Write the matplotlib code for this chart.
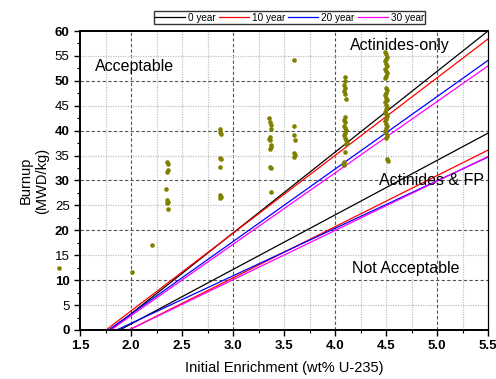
import numpy as np
import matplotlib
matplotlib.use("Agg")
import matplotlib.pyplot as plt

plt.rcParams["font.family"] = ["Liberation Sans", "DejaVu Sans"]

# decay-time curves: x-intercept (wt%) and burnup at 5.5 wt%
years = ["0 year", "10 year", "20 year", "30 year"]
colors = ["black", "red", "blue", "magenta"]
act_x0 = [1.80, 1.755, 1.78, 1.80]
act_y_end = [60.0, 58.4, 54.1, 53.0]
fp_x0 = [1.89, 1.98, 1.86, 1.98]
fp_y_end = [39.5, 36.1, 34.7, 34.8]
x_end = 5.5

# measured assemblies
pt_x = [1.29, 2.01, 2.21,
        2.35, 2.36, 2.36, 2.35, 2.34, 2.35, 2.36, 2.35, 2.36,
        2.87, 2.87, 2.88, 2.87, 2.88, 2.87, 2.87, 2.88, 2.87,
        3.35, 3.36, 3.37, 3.37, 3.36, 3.35, 3.36, 3.37, 3.37, 3.36, 3.36, 3.37, 3.37,
        3.60, 3.60, 3.60, 3.61, 3.60, 3.61, 3.60,
        4.10, 4.10, 4.09, 4.10, 4.09, 4.10, 4.11, 4.10, 4.09, 4.10, 4.09, 4.10,
        4.11, 4.10, 4.09, 4.10, 4.11, 4.12, 4.11, 4.10, 4.09, 4.08, 4.09,
        4.49, 4.50, 4.51, 4.50, 4.49, 4.50, 4.51, 4.49, 4.50, 4.51, 4.50, 4.49,
        4.50, 4.51, 4.50, 4.49, 4.50, 4.51, 4.49, 4.50, 4.51, 4.50, 4.49, 4.50,
        4.51, 4.50, 4.49, 4.50, 4.51, 4.50, 4.49, 4.50, 4.51, 4.50, 4.51, 4.52]
pt_y = [12.4, 11.6, 17.0,
        33.7, 33.3, 32.1, 31.7, 28.2, 26.0, 25.7, 25.4, 24.3,
        40.4, 39.8, 39.3, 34.6, 34.3, 32.8, 27.0, 26.6, 26.4,
        42.5, 41.8, 41.2, 40.4, 38.8, 38.4, 38.1, 37.1, 36.7, 36.3, 32.8, 32.5, 27.6,
        54.1, 41.0, 39.2, 38.2, 35.6, 35.2, 34.7,
        50.7, 50.0, 49.2, 48.5, 47.9, 47.4, 46.3, 42.7, 42.2, 41.8, 41.0, 40.5,
        40.2, 39.6, 39.2, 38.6, 38.2, 37.6, 37.4, 35.8, 33.8, 33.4, 33.2,
        55.8, 55.3, 54.8, 54.3, 53.9, 53.4, 52.9, 52.4, 52.0, 51.5, 51.0, 50.5,
        48.6, 48.1, 47.6, 47.1, 46.6, 46.1, 45.7, 45.2, 44.8, 44.3, 43.8, 43.4,
        42.9, 42.4, 41.9, 41.4, 40.9, 40.5, 40.0, 39.5, 39.0, 38.6, 34.4, 34.0]

fig = plt.figure(figsize=(4.96, 3.79), dpi=100)
ax = fig.add_axes([0.1613, 0.1293, 0.8226, 0.7889])
ax.set_xlim(1.5, 5.5)
ax.set_ylim(0, 60)

# grid: light dotted every 0.25 / 5, dark dashed every 1 / 10
for gx in np.arange(1.75, 5.5, 0.25):
    if abs(gx - round(gx)) < 1e-6:
        ax.axvline(gx, color="#555555", lw=0.8, ls=(0, (3, 2)), zorder=0)
    else:
        ax.axvline(gx, color="#c0c0c0", lw=0.9, ls=(0, (1, 1)), zorder=0)
for gy in np.arange(5, 60, 5):
    if gy % 10 == 0:
        ax.axhline(gy, color="#555555", lw=0.8, ls=(0, (3, 2)), zorder=0)
    else:
        ax.axhline(gy, color="#c0c0c0", lw=0.9, ls=(0, (1, 1)), zorder=0)

handles = []
for lab, c, x0, y1 in zip(years, colors, act_x0, act_y_end):
    h, = ax.plot([x0, x_end], [0, y1], color=c, lw=0.9, label=lab)
    handles.append(h)
for c, x0, y1 in zip(colors, fp_x0, fp_y_end):
    ax.plot([x0, x_end], [0, y1], color=c, lw=0.9)

ax.scatter(pt_x, pt_y, s=11, color="#808000", linewidths=0, zorder=3, clip_on=False)

ax.text(2.03, 52.8, "Acceptable", fontsize=11.5, ha="center", va="center")
ax.text(4.64, 57.0, "Actinides-only", fontsize=11.5, ha="center", va="center")
ax.text(4.95, 29.9, "Actinides & FP", fontsize=11.5, ha="center", va="center")
ax.text(4.69, 12.4, "Not Acceptable", fontsize=11.5, ha="center", va="center")

# ticks
ax.set_xticks(np.arange(1.5, 5.51, 0.5))
ax.set_xticks(np.arange(1.5, 5.51, 0.25), minor=True)
ax.set_yticks(np.arange(0, 61, 5))
ax.set_yticks(np.arange(0, 61, 2.5), minor=True)
ax.set_xticklabels([f"{v:.1f}" for v in np.arange(1.5, 5.51, 0.5)],
                   fontweight="bold", fontsize=9.5)
ax.set_yticklabels([str(int(v)) for v in np.arange(0, 61, 5)], fontsize=9.5)
for lbl, v in zip(ax.get_yticklabels(), np.arange(0, 61, 5)):
    if v % 10 == 0:
        lbl.set_fontweight("bold")
ax.tick_params(which="major", direction="out", length=4, width=1)
ax.tick_params(which="minor", direction="out", length=2, width=0.8)
ax.tick_params(top=False, right=False)

for side in ["left", "bottom", "top"]:
    ax.spines[side].set_linewidth(1.4)
ax.spines["right"].set_linewidth(0.9)

ax.set_xlabel("Initial Enrichment (wt% U-235)", fontsize=10.5, labelpad=6)
ax.set_ylabel("Burnup\n(MWD/kg)", fontsize=10.5, labelpad=4)

fig.legend(handles=handles, loc="center", bbox_to_anchor=(0.584, 0.953), ncol=4,
           fontsize=7.2, frameon=True, fancybox=False, edgecolor="black",
           handlelength=3.0, handletextpad=0.3, columnspacing=0.3,
           borderpad=0.15, borderaxespad=0)

fig.savefig("out.png", dpi=100)
